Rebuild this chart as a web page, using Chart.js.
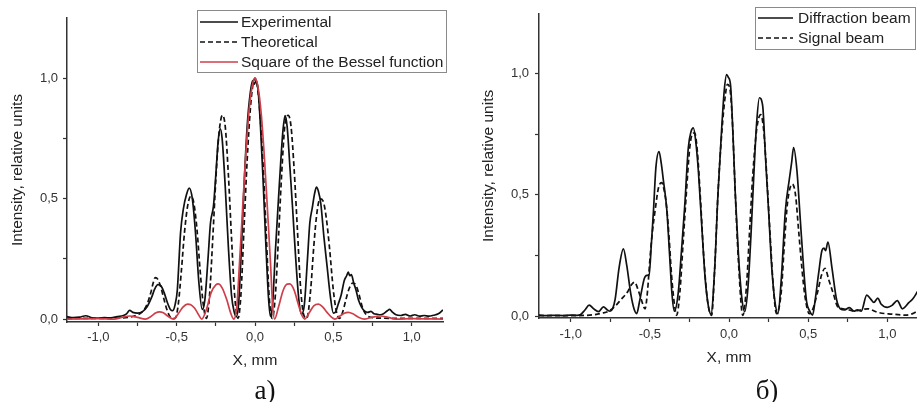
<!DOCTYPE html>
<html>
<head>
<meta charset="utf-8">
<script src="https://cdn.jsdelivr.net/npm/chart.js@4.4.1/dist/chart.umd.min.js"></script>
<style>
  html, body { margin: 0; padding: 0; background: #fff; overflow: hidden; }
  body { width: 917px; height: 402px; position: relative; }
  #chartA { position: absolute; left: 0; top: 0; }
  #chartB { position: absolute; left: 458px; top: 0; }
</style>
</head>
<body>
<canvas id="chartA" width="458" height="402"></canvas>
<canvas id="chartB" width="470" height="402"></canvas>
<script>
// Panel a) - experimental, theoretical and Bessel^2 profiles
const expX = [-1.2, -1.16, -1.12, -1.08, -1.04, -1.0, -0.96, -0.92, -0.88, -0.84, -0.82, -0.8, -0.78, -0.75, -0.72, -0.69, -0.66, -0.64, -0.62, -0.6, -0.58, -0.56, -0.54, -0.525, -0.51, -0.496, -0.475, -0.458, -0.436, -0.42, -0.4, -0.38, -0.358, -0.337, -0.32, -0.3, -0.284, -0.265, -0.25, -0.235, -0.222, -0.21, -0.19, -0.17, -0.15, -0.133, -0.12, -0.105, -0.09, -0.07, -0.05, -0.03, -0.015, -0.005, 0.008, 0.02, 0.035, 0.05, 0.07, 0.085, 0.098, 0.112, 0.13, 0.15, 0.163, 0.178, 0.192, 0.205, 0.222, 0.24, 0.26, 0.28, 0.297, 0.315, 0.335, 0.35, 0.365, 0.38, 0.392, 0.405, 0.42, 0.44, 0.46, 0.48, 0.5, 0.515, 0.53, 0.55, 0.57, 0.585, 0.595, 0.605, 0.615, 0.63, 0.645, 0.66, 0.68, 0.7, 0.72, 0.74, 0.76, 0.78, 0.8, 0.82, 0.845, 0.86, 0.875, 0.9, 0.93, 0.96, 0.99, 1.02, 1.05, 1.08, 1.11, 1.14, 1.17, 1.2];
const expY = [0.01, 0.006, 0.008, 0.014, 0.005, 0.004, 0.006, 0.005, 0.01, 0.015, 0.022, 0.036, 0.028, 0.025, 0.03, 0.05, 0.09, 0.125, 0.143, 0.138, 0.11, 0.07, 0.04, 0.035, 0.06, 0.12, 0.36, 0.455, 0.52, 0.544, 0.5, 0.36, 0.15, 0.04, 0.08, 0.25, 0.4, 0.47, 0.6, 0.74, 0.79, 0.75, 0.55, 0.3, 0.1, 0.03, 0.01, 0.06, 0.25, 0.55, 0.8, 0.94, 0.99, 0.975, 0.99, 0.95, 0.8, 0.6, 0.3, 0.1, 0.012, 0.06, 0.28, 0.5, 0.64, 0.78, 0.845, 0.8, 0.64, 0.46, 0.25, 0.08, 0.02, 0.06, 0.25, 0.4, 0.46, 0.52, 0.548, 0.53, 0.48, 0.34, 0.22, 0.1, 0.025, 0.03, 0.06, 0.1, 0.16, 0.18, 0.195, 0.18, 0.185, 0.15, 0.12, 0.08, 0.05, 0.033, 0.028, 0.032, 0.022, 0.02, 0.018, 0.022, 0.035, 0.04, 0.03, 0.018, 0.015, 0.02, 0.013, 0.018, 0.012, 0.015, 0.012, 0.016, 0.022, 0.038];

const theoX = [-1.2, -1.0, -0.9, -0.8, -0.76, -0.72, -0.69, -0.665, -0.65, -0.637, -0.62, -0.6, -0.58, -0.56, -0.54, -0.51, -0.49, -0.47, -0.45, -0.43, -0.41, -0.39, -0.37, -0.35, -0.33, -0.31, -0.29, -0.27, -0.25, -0.23, -0.208, -0.19, -0.17, -0.15, -0.13, -0.108, -0.09, -0.07, -0.05, -0.03, -0.015, 0, 0.015, 0.03, 0.05, 0.07, 0.09, 0.11, 0.13, 0.15, 0.17, 0.19, 0.212, 0.23, 0.25, 0.27, 0.29, 0.31, 0.33, 0.355, 0.375, 0.395, 0.415, 0.435, 0.455, 0.475, 0.5, 0.52, 0.54, 0.56, 0.58, 0.6, 0.625, 0.645, 0.665, 0.685, 0.71, 0.75, 0.8, 0.9, 1.0, 1.2];
const theoY = [0.003, 0.003, 0.004, 0.008, 0.015, 0.03, 0.06, 0.11, 0.15, 0.172, 0.165, 0.13, 0.08, 0.035, 0.008, 0.003, 0.06, 0.2, 0.36, 0.47, 0.51, 0.48, 0.37, 0.2, 0.06, 0.003, 0.1, 0.33, 0.58, 0.77, 0.846, 0.8, 0.6, 0.34, 0.1, 0.003, 0.1, 0.38, 0.66, 0.87, 0.965, 1.0, 0.965, 0.87, 0.66, 0.38, 0.1, 0.003, 0.1, 0.34, 0.6, 0.8, 0.846, 0.8, 0.62, 0.38, 0.14, 0.02, 0.003, 0.12, 0.3, 0.44, 0.5, 0.49, 0.42, 0.3, 0.12, 0.03, 0.003, 0.03, 0.08, 0.125, 0.15, 0.14, 0.1, 0.05, 0.018, 0.006, 0.004, 0.003, 0.003, 0.003];

const besselX = [-1.2, -1.0, -0.9, -0.85, -0.8, -0.75, -0.7, -0.66, -0.635, -0.61, -0.585, -0.555, -0.52, -0.49, -0.46, -0.43, -0.41, -0.385, -0.36, -0.34, -0.31, -0.28, -0.25, -0.235, -0.21, -0.18, -0.155, -0.135, -0.115, -0.1, -0.08, -0.06, -0.04, -0.02, 0, 0.02, 0.04, 0.06, 0.08, 0.1, 0.112, 0.125, 0.15, 0.18, 0.205, 0.222, 0.25, 0.275, 0.3, 0.318, 0.345, 0.375, 0.405, 0.43, 0.46, 0.49, 0.51, 0.54, 0.57, 0.595, 0.625, 0.66, 0.7, 0.75, 0.8, 0.85, 0.9, 1.0, 1.2];
const besselY = [0, 0.002, 0, 0.007, 0.013, 0.007, 0, 0.013, 0.025, 0.03, 0.026, 0.012, 0, 0.022, 0.05, 0.062, 0.06, 0.045, 0.018, 0, 0.04, 0.11, 0.142, 0.146, 0.13, 0.08, 0.025, 0, 0.06, 0.22, 0.45, 0.67, 0.85, 0.96, 1.0, 0.96, 0.85, 0.67, 0.45, 0.22, 0.06, 0, 0.05, 0.12, 0.145, 0.146, 0.12, 0.065, 0.015, 0, 0.025, 0.055, 0.062, 0.052, 0.028, 0.007, 0, 0.012, 0.024, 0.028, 0.022, 0.008, 0, 0.008, 0.013, 0.007, 0, 0.002, 0];

// Panel б) - diffraction and signal beams
const diffX = [-1.2, -1.15, -1.1, -1.05, -1.0, -0.96, -0.94, -0.91, -0.883, -0.855, -0.824, -0.793, -0.77, -0.751, -0.735, -0.719, -0.694, -0.667, -0.646, -0.62, -0.6, -0.583, -0.565, -0.551, -0.535, -0.519, -0.505, -0.49, -0.477, -0.462, -0.442, -0.428, -0.414, -0.393, -0.375, -0.36, -0.345, -0.32, -0.3, -0.28, -0.257, -0.24, -0.225, -0.21, -0.193, -0.17, -0.15, -0.13, -0.114, -0.09, -0.07, -0.046, -0.03, -0.015, -0.005, 0.01, 0.025, 0.04, 0.06, 0.08, 0.099, 0.12, 0.14, 0.156, 0.175, 0.192, 0.213, 0.23, 0.25, 0.27, 0.29, 0.309, 0.33, 0.356, 0.381, 0.395, 0.408, 0.429, 0.45, 0.471, 0.49, 0.51, 0.528, 0.545, 0.566, 0.587, 0.6, 0.61, 0.625, 0.65, 0.68, 0.703, 0.73, 0.76, 0.79, 0.81, 0.835, 0.87, 0.895, 0.915, 0.94, 0.96, 1.0, 1.03, 1.063, 1.095, 1.137, 1.16, 1.19, 1.2];
const diffY = [0.004, 0.002, 0.003, 0.002, 0.004, 0.003, 0.005, 0.025, 0.045, 0.03, 0.018, 0.038, 0.026, 0.02, 0.03, 0.07, 0.2, 0.277, 0.21, 0.09, 0.03, 0.01, 0.06, 0.107, 0.155, 0.168, 0.17, 0.3, 0.434, 0.61, 0.678, 0.63, 0.557, 0.44, 0.25, 0.09, 0.02, 0.1, 0.27, 0.45, 0.694, 0.76, 0.776, 0.72, 0.594, 0.35, 0.15, 0.04, 0.008, 0.2, 0.5, 0.776, 0.93, 0.995, 0.985, 0.95, 0.75, 0.5, 0.25, 0.08, 0.018, 0.12, 0.35, 0.571, 0.8, 0.9, 0.865, 0.66, 0.434, 0.2, 0.06, 0.01, 0.15, 0.434, 0.564, 0.63, 0.694, 0.6, 0.4, 0.2, 0.06, 0.02, 0.004, 0.07, 0.176, 0.27, 0.28, 0.27, 0.305, 0.2, 0.066, 0.03, 0.025, 0.035, 0.02, 0.026, 0.02, 0.086, 0.07, 0.056, 0.074, 0.05, 0.036, 0.044, 0.064, 0.03, 0.056, 0.07, 0.1, 0.11];

const signalX = [-1.2, -1.0, -0.9, -0.86, -0.8, -0.76, -0.72, -0.68, -0.64, -0.615, -0.597, -0.575, -0.555, -0.53, -0.515, -0.5, -0.485, -0.467, -0.445, -0.425, -0.41, -0.394, -0.378, -0.363, -0.345, -0.331, -0.31, -0.29, -0.27, -0.25, -0.235, -0.217, -0.2, -0.18, -0.16, -0.135, -0.11, -0.09, -0.07, -0.045, -0.025, -0.01, 0.005, 0.02, 0.04, 0.06, 0.087, 0.11, 0.13, 0.15, 0.175, 0.2, 0.22, 0.24, 0.26, 0.28, 0.3, 0.33, 0.35, 0.37, 0.4, 0.42, 0.44, 0.46, 0.48, 0.507, 0.53, 0.56, 0.585, 0.606, 0.63, 0.66, 0.685, 0.72, 0.76, 0.79, 0.83, 0.876, 0.94, 1.03, 1.115, 1.16, 1.2];
const signalY = [0.002, 0.002, 0.003, 0.005, 0.012, 0.02, 0.04, 0.07, 0.1, 0.13, 0.14, 0.11, 0.07, 0.03, 0.1, 0.23, 0.34, 0.434, 0.53, 0.55, 0.52, 0.45, 0.32, 0.17, 0.05, 0.003, 0.1, 0.3, 0.5, 0.68, 0.745, 0.755, 0.68, 0.48, 0.25, 0.06, 0.003, 0.2, 0.5, 0.76, 0.9, 0.955, 0.94, 0.82, 0.5, 0.22, 0.003, 0.12, 0.35, 0.58, 0.77, 0.83, 0.76, 0.56, 0.33, 0.12, 0.01, 0.1, 0.3, 0.47, 0.544, 0.5, 0.35, 0.2, 0.08, 0.01, 0.03, 0.1, 0.17, 0.197, 0.15, 0.09, 0.04, 0.03, 0.025, 0.02, 0.025, 0.03, 0.015, 0.008, 0.004, 0.01, 0.025];

// Axis ticks (labels only on every 0.5)
const xTicks = [-1.0, -0.75, -0.5, -0.25, 0, 0.25, 0.5, 0.75, 1.0];
const yTicks = [0, 0.25, 0.5, 0.75, 1.0];

const sans = '"Liberation Sans", Arial, sans-serif';
const tickFont = { family: sans, size: 13 };
const titleFont = { family: sans, size: 15.5 };

function pts(xs, ys) {
  return xs.map((x, i) => ({ x: x, y: ys[i] }));
}

function fmt(v) {
  if (Math.abs(v * 2 - Math.round(v * 2)) > 1e-6) return '';
  return v.toFixed(1).replace('.', ',');
}

// Legend frame and panel caption, drawn after the chart
const figureExtras = {
  id: 'figureExtras',
  afterDraw(chart, args, opts) {
    const ctx = chart.ctx;
    const b = opts.box;
    ctx.save();
    ctx.fillStyle = '#fff';
    ctx.fillRect(b.x, b.y, b.w, b.h);
    ctx.strokeStyle = '#8a8a8a';
    ctx.lineWidth = 1;
    ctx.strokeRect(b.x + 0.5, b.y + 0.5, b.w, b.h);
    ctx.font = '15.5px ' + sans;
    ctx.textBaseline = 'middle';
    chart.data.datasets.forEach((ds, i) => {
      const y = b.y + opts.rowTop + i * opts.rowGap;
      ctx.beginPath();
      ctx.setLineDash(ds.borderDash || []);
      ctx.strokeStyle = ds.borderColor;
      ctx.lineWidth = 1.3;
      ctx.moveTo(b.x + 3, y);
      ctx.lineTo(b.x + 3 + opts.sample, y);
      ctx.stroke();
      ctx.setLineDash([]);
      ctx.fillStyle = '#222';
      ctx.fillText(ds.label, b.x + 3 + opts.sample + opts.textGap, y + 1);
    });
    ctx.font = '27px "Liberation Serif", "Times New Roman", serif';
    ctx.textAlign = 'center';
    ctx.textBaseline = 'alphabetic';
    ctx.fillStyle = '#111';
    ctx.fillText(opts.caption, opts.captionX, 399);
    ctx.restore();
  }
};

function makeOptions(o) {
  return {
    responsive: false,
    animation: false,
    layout: { padding: { top: o.top, right: o.right, left: 0, bottom: 0 } },
    elements: {
      point: { radius: 0 },
      line: { fill: false, cubicInterpolationMode: 'monotone' }
    },
    plugins: {
      legend: { display: false },
      tooltip: { enabled: false },
      figureExtras: o.extras
    },
    scales: {
      x: {
        type: 'linear', min: -1.2, max: 1.2,
        afterBuildTicks: s => { s.ticks = xTicks.map(v => ({ value: v })); },
        afterFit: s => { s.height = o.xHeight; },
        ticks: { autoSkip: false, maxRotation: 0, padding: o.xTickPad, color: '#333', font: tickFont, callback: fmt },
        grid: { drawOnChartArea: false, tickLength: 4, tickColor: '#333', tickWidth: 1.2 },
        border: { color: '#333', width: 1.5 },
        title: { display: true, text: 'X, mm', color: '#222', font: titleFont, padding: { top: 0, bottom: o.xTitlePad } }
      },
      y: {
        type: 'linear', min: o.yMin, max: o.yMax,
        afterBuildTicks: s => { s.ticks = yTicks.map(v => ({ value: v })); },
        afterFit: s => { s.width = o.yWidth; },
        ticks: { autoSkip: false, padding: o.yTickPad, color: '#333', font: tickFont, callback: fmt },
        grid: { drawOnChartArea: false, tickLength: 4, tickColor: '#333', tickWidth: 1.2 },
        border: { color: '#333', width: 1.5 },
        title: { display: true, text: 'Intensity, relative units', color: '#222', font: titleFont, padding: { top: o.yTitlePad, bottom: 0 } }
      }
    }
  };
}

new Chart(document.getElementById('chartA'), {
  type: 'line',
  data: {
    datasets: [
      { label: 'Experimental', data: pts(expX, expY), borderColor: '#111', borderWidth: 1.7, order: 2 },
      { label: 'Theoretical', data: pts(theoX, theoY), borderColor: '#111', borderWidth: 1.7, borderDash: [5, 3], order: 1 },
      { label: 'Square of the Bessel function', data: pts(besselX, besselY), borderColor: '#cf3f4a', borderWidth: 1.7, order: 0 }
    ]
  },
  options: makeOptions({
    top: 18, right: 15, xHeight: 80, yWidth: 67, yMin: -0.012, yMax: 1.25,
    xTickPad: 4, yTickPad: 5, xTitlePad: 32, yTitlePad: 8,
    extras: { box: { x: 197, y: 10, w: 249, h: 62 }, rowTop: 12, rowGap: 20, sample: 38, textGap: 3, caption: 'а)', captionX: 265 }
  }),
  plugins: [figureExtras]
});

new Chart(document.getElementById('chartB'), {
  type: 'line',
  data: {
    datasets: [
      { label: 'Diffraction beam', data: pts(diffX, diffY), borderColor: '#111', borderWidth: 1.7, order: 1 },
      { label: 'Signal beam', data: pts(signalX, signalY), borderColor: '#111', borderWidth: 1.7, borderDash: [5, 3], order: 0 }
    ]
  },
  options: makeOptions({
    top: 12, right: 9, xHeight: 84, yWidth: 81, yMin: -0.008, yMax: 1.246,
    xTickPad: 5, yTickPad: 6, xTitlePad: 35, yTitlePad: 21,
    extras: { box: { x: 297, y: 7, w: 160, h: 42 }, rowTop: 11, rowGap: 20, sample: 35, textGap: 5, caption: 'б)', captionX: 309 }
  }),
  plugins: [figureExtras]
});
</script>
</body>
</html>
